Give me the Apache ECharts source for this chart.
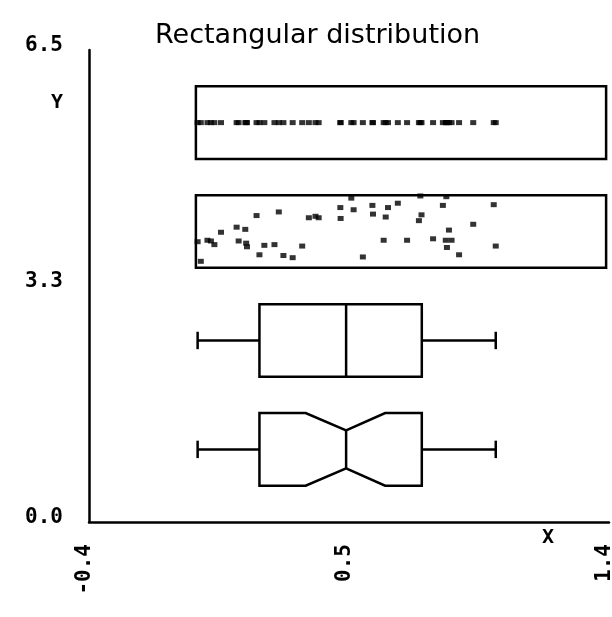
<!DOCTYPE html>
<html>
<head>
<meta charset="utf-8">
<script src="https://cdn.jsdelivr.net/npm/echarts@6/dist/echarts.min.js"></script>
<style>
  html, body { margin: 0; padding: 0; background: #fff; }
  #chart { width: 612px; height: 617px; }
</style>
</head>
<body>
<div id="chart"></div>
<script>
// Sample of 48 draws from a rectangular (uniform) distribution
const sampleX = [
  -0.024, -0.013, 0.010, 0.022, 0.034, 0.057, 0.111, 0.141, 0.118, 0.144,
  0.147, 0.180, 0.190, 0.207, 0.242, 0.257, 0.273, 0.305, 0.338, 0.361,
  0.384, 0.395, 0.470, 0.471, 0.508, 0.516, 0.548, 0.581, 0.583, 0.620,
  0.627, 0.635, 0.669, 0.701, 0.747, 0.751, 0.742, 0.791, 0.825, 0.837,
  0.846, 0.835, 0.855, 0.839, 0.881, 0.930, 1.001, 1.008
];
// Vertical jitter of each draw in the jittered strip
const jitterY = [
  -0.14, -0.41, -0.12, -0.13, -0.18, -0.01, 0.06, 0.03, -0.13, -0.16,
  -0.21, 0.22, -0.32, -0.19, -0.18, 0.27, -0.33, -0.36, -0.20, 0.19,
  0.21, 0.19, 0.33, 0.18, 0.46, 0.30, -0.35, 0.36, 0.24, -0.12,
  0.20, 0.33, 0.39, -0.12, 0.49, 0.23, 0.15, -0.10, 0.36, 0.48,
  0.02, -0.12, -0.12, -0.22, -0.32, 0.10, 0.37, -0.20
];
// Five-number summary: min, Q1, median, Q3, max
const boxStats = [-0.024, 0.19, 0.49, 0.752, 1.008];
// Confidence notch around the median
const notchLimits = [0.35, 0.625];
// Extent of the frames around the two strip plots
const stripRange = [-0.03, 1.39];
// Ticks at the ends and the middle of each axis
const xTicks = [-0.4, 0.5, 1.4];
const yTicks = [0.0, 3.25, 6.5];

// Row levels of the four displays (bottom to top)
const ROW_NOTCHED = 1.0, ROW_BOX = 2.5, ROW_JITTER = 4.0, ROW_STRIP = 5.5;
const HALF = 0.5;        // half height of each frame / box
const WAIST = 0.26;      // half height of the notch waist
const CAP = 0.12;        // half height of whisker caps

const INK = '#000';
const MONO = '"DejaVu Sans Mono", "Liberation Mono", monospace';
const LW = 2.5;
const lineStyle = { stroke: INK, lineWidth: LW, fill: null };

const chart = echarts.init(document.getElementById('chart'), null, { renderer: 'canvas' });

function frameItem(params, api) {
  const x0 = api.value(0), x1 = api.value(1), y = api.value(2);
  const a = api.coord([x0, y + HALF]);
  const b = api.coord([x1, y - HALF]);
  return {
    type: 'rect',
    shape: { x: a[0], y: a[1], width: b[0] - a[0], height: b[1] - a[1] },
    style: lineStyle
  };
}

function boxItem(params, api) {
  const mn = api.value(0), q1 = api.value(1), md = api.value(2),
        q3 = api.value(3), mx = api.value(4), y = api.value(5),
        notched = api.value(6) === 1;
  const P = (vx, vy) => api.coord([vx, vy]);
  const children = [];
  // whiskers with end caps
  children.push({ type: 'polyline', shape: { points: [P(mn, y), P(q1, y)] }, style: lineStyle });
  children.push({ type: 'polyline', shape: { points: [P(q3, y), P(mx, y)] }, style: lineStyle });
  children.push({ type: 'polyline', shape: { points: [P(mn, y - CAP), P(mn, y + CAP)] }, style: lineStyle });
  children.push({ type: 'polyline', shape: { points: [P(mx, y - CAP), P(mx, y + CAP)] }, style: lineStyle });
  if (notched) {
    const lo = api.value(7), hi = api.value(8);
    children.push({
      type: 'polygon',
      shape: { points: [
        P(q1, y + HALF), P(lo, y + HALF), P(md, y + WAIST), P(hi, y + HALF), P(q3, y + HALF),
        P(q3, y - HALF), P(hi, y - HALF), P(md, y - WAIST), P(lo, y - HALF), P(q1, y - HALF)
      ] },
      style: lineStyle
    });
    children.push({ type: 'polyline', shape: { points: [P(md, y - WAIST), P(md, y + WAIST)] }, style: lineStyle });
  } else {
    children.push({
      type: 'polygon',
      shape: { points: [P(q1, y + HALF), P(q3, y + HALF), P(q3, y - HALF), P(q1, y - HALF)] },
      style: lineStyle
    });
    children.push({ type: 'polyline', shape: { points: [P(md, y - HALF), P(md, y + HALF)] }, style: lineStyle });
  }
  return { type: 'group', children };
}

// Labels sit just above (or, rotated, just left of) their tick
const tickLabel = {
  fontFamily: MONO, fontSize: 21, fontWeight: 'bold', color: INK,
  verticalAlign: 'bottom', lineHeight: 8,
  formatter: v => v.toFixed(1)
};

const option = {
  backgroundColor: '#fff',
  animation: false,
  title: {
    text: 'Rectangular distribution',
    left: 150, top: 17,
    textStyle: { fontFamily: '"DejaVu Sans", sans-serif', fontSize: 27, fontWeight: 'normal', color: INK }
  },
  grid: { left: 89, right: 3, top: 50, bottom: 95, outerBoundsMode: 'none', containLabel: false },
  xAxis: {
    type: 'value', min: xTicks[0], max: xTicks[xTicks.length - 1],
    axisLine: { show: true, onZero: false, lineStyle: { color: INK, width: LW } },
    axisTick: { show: false },
    splitLine: { show: false },
    axisLabel: Object.assign({ customValues: xTicks, rotate: 90, margin: 22 }, tickLabel)
  },
  yAxis: {
    type: 'value', min: yTicks[0], max: yTicks[yTicks.length - 1],
    axisLine: { show: true, onZero: false, lineStyle: { color: INK, width: LW } },
    axisTick: { show: false },
    splitLine: { show: false },
    axisLabel: Object.assign({ customValues: yTicks, margin: 26 }, tickLabel)
  },
  graphic: [
    { type: 'text', left: 51, top: 93, style: { text: 'Y', font: 'bold 20px ' + MONO, fill: INK } },
    { type: 'text', left: 542, top: 528, style: { text: 'X', font: 'bold 20px ' + MONO, fill: INK } }
  ],
  series: [
    {
      type: 'custom', clip: false, silent: true,
      renderItem: frameItem,
      encode: { x: [0, 1], y: 2 },
      data: [[stripRange[0], stripRange[1], ROW_STRIP], [stripRange[0], stripRange[1], ROW_JITTER]]
    },
    {
      type: 'custom', clip: false, silent: true,
      renderItem: boxItem,
      encode: { x: [0, 1, 2, 3, 4], y: 5 },
      data: [
        [...boxStats, ROW_BOX, 0, 0, 0],
        [...boxStats, ROW_NOTCHED, 1, notchLimits[0], notchLimits[1]]
      ]
    },
    {
      type: 'scatter', silent: true,
      symbol: 'rect', symbolSize: [6, 5],
      itemStyle: { color: INK },
      data: sampleX.map(x => [x, ROW_STRIP])
    },
    {
      type: 'scatter', silent: true,
      symbol: 'rect', symbolSize: [6, 5],
      itemStyle: { color: INK },
      data: sampleX.map((x, i) => [x, ROW_JITTER + jitterY[i]])
    }
  ]
};

chart.setOption(option);
</script>
</body>
</html>
